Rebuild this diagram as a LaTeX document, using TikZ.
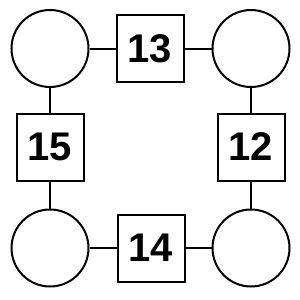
\documentclass[tikz,border=0pt]{standalone}
\usepackage{fontspec}
\setmainfont{Liberation Sans}
\begin{document}
\begin{tikzpicture}[x=1pt,y=-1pt,
  ring/.style={circle,draw,line width=2pt,minimum size=77pt,inner sep=0pt},
  numbox/.style={rectangle,draw,line width=2pt,minimum size=67pt,inner sep=0pt,font=\fontsize{40}{40}\selectfont\bfseries},
  link/.style={line width=2pt}]
\useasboundingbox (0,0) rectangle (300,300);
\node[ring] (tl) at (50,48.5) {};
\node[ring] (tr) at (251,48.5) {};
\node[ring] (bl) at (50,248) {};
\node[ring] (br) at (251,248) {};
\node[numbox] (t) at (150,48.5) {13};
\node[numbox] (b) at (151,248) {14};
\node[numbox] (l) at (50,147) {15};
\node[numbox] (r) at (251,147) {12};
\draw[link] (tl) -- (t);
\draw[link] (t) -- (tr);
\draw[link] (tr) -- (r);
\draw[link] (r) -- (br);
\draw[link] (br) -- (b);
\draw[link] (b) -- (bl);
\draw[link] (bl) -- (l);
\draw[link] (l) -- (tl);
\end{tikzpicture}
\end{document}
